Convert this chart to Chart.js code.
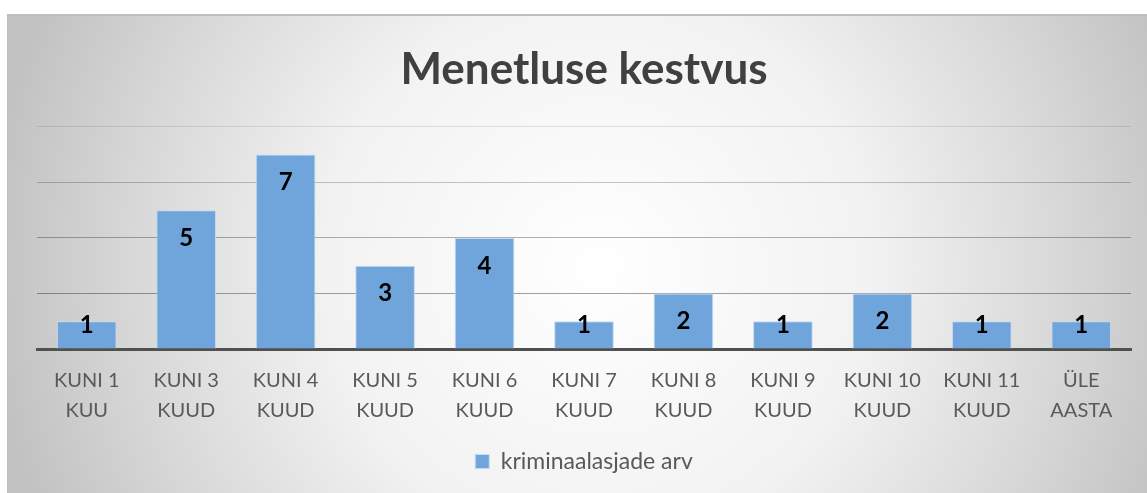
<!DOCTYPE html>
<html>
<head>
<meta charset="utf-8">
<script src="https://cdn.jsdelivr.net/npm/chart.js@4/dist/chart.umd.min.js"></script>
<style>
  html, body { margin: 0; padding: 0; background: #ffffff; }
  #frame {
    position: absolute; left: 7px; top: 14px; width: 1140px; height: 479px;
    border-top: 2px solid #bfbfbf; border-left: 1px solid #bfbfbf;
    background: radial-gradient(circle 610px at 590px 250px, #ffffff 0%, #f2f2f2 45%, #d9d9d9 75%, #c2c2c2 100%);
    overflow: hidden;
  }
  #wrap { position: absolute; left: 0; top: 0; width: 1140px; height: 479px; }
</style>
</head>
<body>
<div id="frame"><div id="wrap"><canvas id="c"></canvas></div></div>
<script>
const categories = [
  ["KUNI 1", "KUU"], ["KUNI 3", "KUUD"], ["KUNI 4", "KUUD"], ["KUNI 5", "KUUD"],
  ["KUNI 6", "KUUD"], ["KUNI 7", "KUUD"], ["KUNI 8", "KUUD"], ["KUNI 9", "KUUD"],
  ["KUNI 10", "KUUD"], ["KUNI 11", "KUUD"], ["ÜLE", "AASTA"]
];
const seriesName = "kriminaalasjade arv";
const values = [1, 5, 7, 3, 4, 1, 2, 1, 2, 1, 1];
const yTicks = [0, 2, 4, 6, 8];
const chartTitle = "Menetluse kestvus";

const FONT = "Lato, Calibri, Carlito, 'Noto Sans', sans-serif";

const valueLabels = {
  id: 'valueLabels',
  afterDatasetsDraw(chart) {
    const ctx = chart.ctx;
    const meta = chart.getDatasetMeta(0);
    ctx.save();
    ctx.font = "bold 24px " + FONT;
    ctx.fillStyle = "#000000";
    ctx.textAlign = "center";
    ctx.textBaseline = "middle";
    meta.data.forEach((bar, i) => {
      const y = Math.min(bar.y + 28, bar.base - 23);
      ctx.fillText(String(values[i]), bar.x, y);
    });
    ctx.restore();
  }
};

const gridAlpha = {0: 0, 2: 0.36, 4: 0.3, 6: 0.22, 8: 0.1};

new Chart(document.getElementById('c'), {
  type: 'bar',
  data: {
    labels: categories,
    datasets: [{
      label: seriesName,
      data: values,
      backgroundColor: '#6fa5da',
      borderColor: '#c4daf0',
      borderWidth: 1,
      categoryPercentage: 1.0,
      barPercentage: 0.6
    }]
  },
  options: {
    responsive: true,
    maintainAspectRatio: false,
    animation: false,
    devicePixelRatio: 1,
    layout: { padding: { left: 29, right: 17, top: 0, bottom: 12 } },
    scales: {
      x: {
        grid: { display: false, drawTicks: false },
        border: { display: true, color: '#505050', width: 3 },
        ticks: {
          color: '#595959',
          padding: 17,
          maxRotation: 0,
          autoSkip: false,
          font: { family: FONT, size: 20, lineHeight: 1.5 }
        }
      },
      y: {
        min: 0, max: 8,
        afterBuildTicks(axis) { axis.ticks = yTicks.map(v => ({ value: v })); },
        ticks: { display: false },
        grid: {
          drawTicks: false,
          lineWidth: 1,
          color: (ctx) => 'rgba(0,0,0,' + (gridAlpha[ctx.tick && ctx.tick.value] ?? 0.25) + ')'
        },
        border: { display: false }
      }
    },
    plugins: {
      title: {
        display: true,
        text: chartTitle,
        color: '#404040',
        font: { family: FONT, size: 44, weight: 'bold', lineHeight: 1.2 },
        padding: { top: 27, bottom: 31 }
      },
      legend: {
        display: true,
        position: 'bottom',
        labels: {
          color: '#595959',
          boxWidth: 14,
          boxHeight: 14,
          padding: 7,
          font: { family: FONT, size: 23 }
        }
      },
      tooltip: { enabled: false }
    }
  },
  plugins: [valueLabels]
});
</script>
</body>
</html>
